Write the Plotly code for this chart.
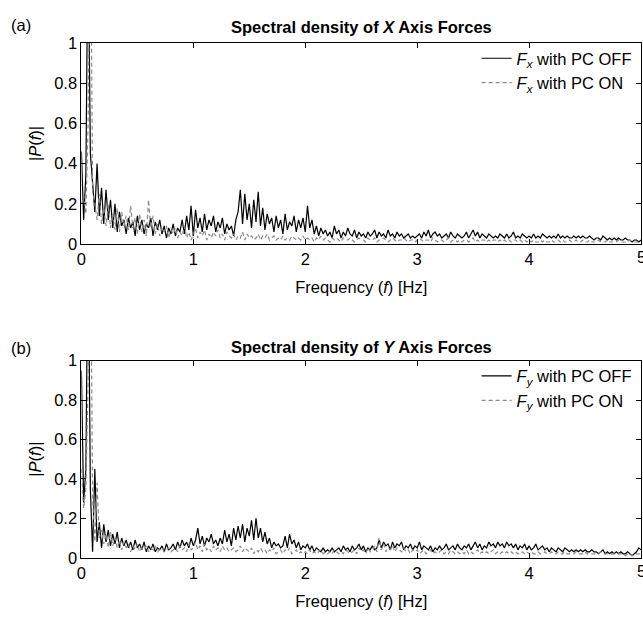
import numpy as np
import plotly.graph_objects as go

# frequency axis (Hz), 0.02 Hz step
freq = [round(i * 0.02, 2) for i in range(251)]

# X-axis forces, PC OFF (black solid)
px_off = [
    0.46, 0.12, 0.35, 1.60, 0.45, 0.30, 0.16, 0.40, 0.14, 0.28,
    0.10, 0.27, 0.12, 0.22, 0.08, 0.20, 0.06, 0.16, 0.09, 0.12,
    0.05, 0.13, 0.08, 0.11, 0.04, 0.14, 0.07, 0.12, 0.05, 0.10,
    0.08, 0.13, 0.04, 0.11, 0.07, 0.12, 0.05, 0.09, 0.03, 0.08,
    0.05, 0.10, 0.04, 0.08, 0.06, 0.12, 0.05, 0.14, 0.07, 0.19,
    0.04, 0.17, 0.08, 0.13, 0.06, 0.15, 0.07, 0.12, 0.09, 0.14,
    0.06, 0.11, 0.08, 0.13, 0.05, 0.10, 0.07, 0.09, 0.04, 0.12,
    0.16, 0.27, 0.10, 0.25, 0.12, 0.20, 0.08, 0.22, 0.11, 0.26,
    0.09, 0.18, 0.07, 0.15, 0.10, 0.13, 0.06, 0.14, 0.08, 0.12,
    0.05, 0.15, 0.07, 0.11, 0.09, 0.14, 0.06, 0.12, 0.08, 0.13,
    0.06, 0.19, 0.08, 0.12, 0.05, 0.09, 0.04, 0.08, 0.05, 0.07,
    0.04, 0.06, 0.03, 0.09, 0.05, 0.07, 0.03, 0.06, 0.04, 0.08,
    0.05, 0.04, 0.07, 0.03, 0.06, 0.04, 0.05, 0.03, 0.06, 0.04,
    0.05, 0.07, 0.03, 0.06, 0.04, 0.05, 0.03, 0.07, 0.04, 0.05,
    0.03, 0.06, 0.04, 0.05, 0.03, 0.04, 0.05, 0.03, 0.04, 0.03,
    0.04, 0.05, 0.03, 0.06, 0.04, 0.07, 0.03, 0.05, 0.06, 0.04,
    0.05, 0.03, 0.04, 0.05, 0.03, 0.06, 0.04, 0.03, 0.05, 0.04,
    0.03, 0.04, 0.06, 0.03, 0.05, 0.07, 0.04, 0.06, 0.03, 0.05,
    0.04, 0.03, 0.05, 0.04, 0.03, 0.04, 0.03, 0.05, 0.04, 0.03,
    0.05, 0.03, 0.04, 0.06, 0.03, 0.04, 0.03, 0.05, 0.04, 0.03,
    0.04, 0.03, 0.05, 0.03, 0.04, 0.03, 0.05, 0.04, 0.03, 0.04,
    0.03, 0.04, 0.03, 0.05, 0.03, 0.04, 0.03, 0.04, 0.03, 0.03,
    0.04, 0.03, 0.04, 0.03, 0.04, 0.03, 0.03, 0.04, 0.03, 0.02,
    0.03, 0.03, 0.02, 0.04, 0.03, 0.02, 0.03, 0.02, 0.03, 0.02,
    0.03, 0.02, 0.02, 0.03, 0.02, 0.02, 0.01, 0.02, 0.02, 0.01,
    0.02,
]

# X-axis forces, PC ON (grey dashed)
px_on = [
    0.20, 0.24, 0.15, 0.60, 1.80, 0.26, 0.20, 0.12, 0.25, 0.10,
    0.18, 0.09, 0.20, 0.08, 0.15, 0.07, 0.18, 0.06, 0.16, 0.09,
    0.14, 0.07, 0.19, 0.08, 0.13, 0.05, 0.15, 0.06, 0.12, 0.04,
    0.22, 0.08, 0.14, 0.05, 0.10, 0.04, 0.08, 0.06, 0.09, 0.03,
    0.07, 0.05, 0.08, 0.03, 0.06, 0.04, 0.09, 0.03, 0.06, 0.02,
    0.05, 0.08, 0.03, 0.06, 0.04, 0.07, 0.02, 0.05, 0.03, 0.06,
    0.04, 0.07, 0.03, 0.05, 0.02, 0.06, 0.04, 0.03, 0.05, 0.02,
    0.04, 0.03, 0.06, 0.02, 0.05, 0.03, 0.04, 0.02, 0.03, 0.05,
    0.02, 0.04, 0.03, 0.05, 0.02, 0.03, 0.04, 0.02, 0.03, 0.02,
    0.04, 0.02, 0.03, 0.02, 0.04, 0.03, 0.02, 0.03, 0.02, 0.04,
    0.02, 0.03, 0.02, 0.03, 0.01, 0.03, 0.02, 0.04, 0.02, 0.03,
    0.02, 0.01, 0.03, 0.02, 0.03, 0.02, 0.01, 0.03, 0.02, 0.02,
    0.03, 0.02, 0.01, 0.02, 0.03, 0.02, 0.02, 0.01, 0.03, 0.02,
    0.02, 0.03, 0.01, 0.02, 0.02, 0.03, 0.02, 0.01, 0.02, 0.03,
    0.02, 0.01, 0.02, 0.02, 0.03, 0.02, 0.01, 0.02, 0.02, 0.01,
    0.02, 0.03, 0.02, 0.01, 0.02, 0.02, 0.01, 0.03, 0.02, 0.01,
    0.02, 0.02, 0.01, 0.02, 0.03, 0.01, 0.02, 0.02, 0.01, 0.02,
    0.01, 0.02, 0.02, 0.01, 0.02, 0.03, 0.01, 0.02, 0.01, 0.02,
    0.02, 0.01, 0.02, 0.01, 0.02, 0.02, 0.01, 0.02, 0.01, 0.02,
    0.01, 0.02, 0.01, 0.02, 0.02, 0.01, 0.02, 0.01, 0.02, 0.01,
    0.02, 0.01, 0.02, 0.01, 0.01, 0.02, 0.01, 0.02, 0.01, 0.01,
    0.02, 0.01, 0.01, 0.02, 0.01, 0.02, 0.01, 0.01, 0.02, 0.01,
    0.01, 0.02, 0.01, 0.01, 0.02, 0.01, 0.01, 0.02, 0.01, 0.01,
    0.01, 0.02, 0.01, 0.01, 0.01, 0.02, 0.01, 0.01, 0.01, 0.01,
    0.02, 0.01, 0.01, 0.01, 0.01, 0.02, 0.01, 0.01, 0.01, 0.01,
    0.01,
]

# Y-axis forces, PC OFF (black solid)
py_off = [
    0.95, 0.28, 0.45, 1.70, 0.35, 0.03, 0.45, 0.08, 0.18, 0.05,
    0.17, 0.08, 0.14, 0.06, 0.12, 0.07, 0.13, 0.05, 0.10, 0.06,
    0.09, 0.05, 0.08, 0.04, 0.09, 0.05, 0.07, 0.04, 0.08, 0.03,
    0.06, 0.04, 0.07, 0.03, 0.05, 0.04, 0.06, 0.03, 0.07, 0.04,
    0.05, 0.07, 0.04, 0.08, 0.05, 0.09, 0.06, 0.08, 0.05, 0.10,
    0.06, 0.09, 0.15, 0.07, 0.11, 0.06, 0.10, 0.08, 0.12, 0.07,
    0.09, 0.06, 0.10, 0.07, 0.14, 0.08, 0.12, 0.06, 0.15, 0.09,
    0.16, 0.10, 0.17, 0.08, 0.15, 0.11, 0.19, 0.09, 0.20, 0.10,
    0.15, 0.08, 0.13, 0.07, 0.10, 0.05, 0.08, 0.06, 0.07, 0.05,
    0.06, 0.11, 0.05, 0.12, 0.07, 0.09, 0.05, 0.08, 0.04, 0.06,
    0.05, 0.07, 0.04, 0.06, 0.03, 0.05, 0.04, 0.03, 0.05, 0.03,
    0.04, 0.03, 0.05, 0.03, 0.04, 0.05, 0.03, 0.06, 0.04, 0.05,
    0.03, 0.06, 0.04, 0.05, 0.07, 0.04, 0.06, 0.03, 0.05, 0.04,
    0.06, 0.04, 0.05, 0.09, 0.05, 0.08, 0.06, 0.07, 0.04, 0.08,
    0.05, 0.07, 0.06, 0.08, 0.04, 0.06, 0.05, 0.07, 0.04, 0.06,
    0.05, 0.08, 0.04, 0.06, 0.05, 0.04, 0.06, 0.03, 0.05, 0.04,
    0.06, 0.04, 0.05, 0.07, 0.04, 0.05, 0.06, 0.04, 0.07, 0.05,
    0.04, 0.06, 0.05, 0.07, 0.04, 0.06, 0.08, 0.05, 0.07, 0.04,
    0.06, 0.05, 0.08, 0.06, 0.07, 0.05, 0.08, 0.06, 0.07, 0.05,
    0.08, 0.06, 0.07, 0.05, 0.07, 0.04, 0.06, 0.05, 0.07, 0.04,
    0.06, 0.04, 0.05, 0.07, 0.04, 0.05, 0.06, 0.04, 0.05, 0.03,
    0.05, 0.04, 0.03, 0.05, 0.04, 0.03, 0.05, 0.04, 0.03, 0.04,
    0.03, 0.04, 0.03, 0.04, 0.03, 0.04, 0.03, 0.03, 0.04, 0.03,
    0.03, 0.02, 0.03, 0.04, 0.02, 0.03, 0.02, 0.03, 0.02, 0.03,
    0.02, 0.03, 0.02, 0.02, 0.03, 0.02, 0.01, 0.02, 0.03, 0.05,
    0.04,
]

# Y-axis forces, PC ON (grey dashed)
py_on = [
    0.45, 0.25, 0.35, 0.90, 1.80, 0.30, 0.08, 0.38, 0.10, 0.14,
    0.07, 0.12, 0.05, 0.13, 0.06, 0.10, 0.05, 0.09, 0.04, 0.08,
    0.05, 0.07, 0.03, 0.06, 0.04, 0.07, 0.03, 0.05, 0.04, 0.06,
    0.03, 0.05, 0.04, 0.06, 0.03, 0.04, 0.05, 0.03, 0.04, 0.05,
    0.03, 0.04, 0.05, 0.03, 0.06, 0.04, 0.05, 0.03, 0.07, 0.04,
    0.05, 0.08, 0.04, 0.06, 0.03, 0.07, 0.04, 0.05, 0.03, 0.06,
    0.04, 0.05, 0.03, 0.06, 0.04, 0.05, 0.03, 0.04, 0.05, 0.03,
    0.04, 0.06, 0.03, 0.05, 0.04, 0.03, 0.05, 0.02, 0.04, 0.03,
    0.05, 0.03, 0.04, 0.02, 0.04, 0.03, 0.05, 0.02, 0.03, 0.04,
    0.02, 0.04, 0.03, 0.05, 0.02, 0.03, 0.04, 0.02, 0.03, 0.02,
    0.03, 0.02, 0.04, 0.02, 0.03, 0.02, 0.03, 0.04, 0.02, 0.03,
    0.02, 0.03, 0.02, 0.04, 0.03, 0.02, 0.03, 0.02, 0.04, 0.03,
    0.02, 0.03, 0.04, 0.02, 0.05, 0.03, 0.04, 0.02, 0.05, 0.03,
    0.04, 0.06, 0.03, 0.10, 0.04, 0.07, 0.03, 0.05, 0.04, 0.06,
    0.03, 0.05, 0.04, 0.03, 0.05, 0.03, 0.04, 0.02, 0.04, 0.03,
    0.04, 0.02, 0.03, 0.04, 0.02, 0.03, 0.04, 0.02, 0.03, 0.02,
    0.03, 0.04, 0.02, 0.03, 0.02, 0.04, 0.03, 0.02, 0.03, 0.02,
    0.03, 0.02, 0.04, 0.02, 0.03, 0.02, 0.03, 0.04, 0.02, 0.03,
    0.02, 0.03, 0.02, 0.03, 0.04, 0.02, 0.03, 0.02, 0.03, 0.02,
    0.03, 0.02, 0.03, 0.02, 0.03, 0.02, 0.02, 0.03, 0.02, 0.03,
    0.02, 0.03, 0.02, 0.02, 0.03, 0.02, 0.02, 0.03, 0.02, 0.02,
    0.03, 0.02, 0.02, 0.03, 0.02, 0.02, 0.03, 0.02, 0.02, 0.02,
    0.02, 0.03, 0.02, 0.02, 0.02, 0.03, 0.02, 0.02, 0.02, 0.02,
    0.02, 0.02, 0.03, 0.02, 0.02, 0.02, 0.02, 0.02, 0.02, 0.02,
    0.02, 0.02, 0.02, 0.01, 0.02, 0.02, 0.01, 0.02, 0.02, 0.02,
    0.02,
]

x_ticks = [0, 1, 2, 3, 4, 5]
x_ticklabels = ["0", "1", "2", "3", "4", "5"]
y_ticks = [0, 0.2, 0.4, 0.6, 0.8, 1]
y_ticklabels = ["0", "0.2", "0.4", "0.6", "0.8", "1"]

FONT = "Liberation Sans, Arial, sans-serif"
GREY = "#8a8a8a"
FS = 16.5

W, H = 643, 625
L_PX, R_PX = 77, 641
TOP1, BOT1 = 35, 242
TOP2, BOT2 = 362, 565


def fy(px):
    return 1 - px / H


fig = go.Figure()

fig.add_trace(go.Scatter(x=freq, y=px_off, mode="lines", xaxis="x", yaxis="y",
                         line=dict(color="black", width=1.2),
                         name="<i>F</i><sub><i>x</i></sub> with PC OFF", legend="legend"))
fig.add_trace(go.Scatter(x=freq, y=px_on, mode="lines", xaxis="x", yaxis="y",
                         line=dict(color=GREY, width=1.2, dash="4px,3px"),
                         name="<i>F</i><sub><i>x</i></sub> with PC ON", legend="legend"))
fig.add_trace(go.Scatter(x=freq, y=py_off, mode="lines", xaxis="x2", yaxis="y2",
                         line=dict(color="black", width=1.2),
                         name="<i>F</i><sub><i>y</i></sub> with PC OFF", legend="legend2"))
fig.add_trace(go.Scatter(x=freq, y=py_on, mode="lines", xaxis="x2", yaxis="y2",
                         line=dict(color=GREY, width=1.2, dash="4px,3px"),
                         name="<i>F</i><sub><i>y</i></sub> with PC ON", legend="legend2"))

xdom = [L_PX / W, R_PX / W]
axis_common = dict(showline=True, linecolor="black", linewidth=1, mirror="ticks",
                   ticks="inside", ticklen=5, tickcolor="black", showgrid=False,
                   zeroline=False, tickfont=dict(family=FONT, size=FS, color="black"))

xtitle = dict(text="Frequency (<i>f</i>) [Hz]", font=dict(family=FONT, size=FS, color="black"), standoff=14)
ytitle = dict(text="|<i>P</i>(<i>f</i>)|", font=dict(family=FONT, size=FS, color="black"), standoff=8)

fig.update_layout(
    width=W, height=H, margin=dict(l=0, r=0, t=0, b=0),
    plot_bgcolor="white", paper_bgcolor="white",
    xaxis=dict(domain=xdom, anchor="y", range=[0, 5], tickvals=x_ticks[:-1], ticktext=x_ticklabels[:-1],
               title=xtitle, **axis_common),
    yaxis=dict(domain=[fy(BOT1), fy(TOP1)], anchor="x", range=[0, 1], tickvals=y_ticks,
               ticktext=y_ticklabels, title=ytitle, **axis_common),
    xaxis2=dict(domain=xdom, anchor="y2", range=[0, 5], tickvals=x_ticks[:-1], ticktext=x_ticklabels[:-1],
                title=xtitle, **axis_common),
    yaxis2=dict(domain=[fy(BOT2), fy(TOP2)], anchor="x2", range=[0, 1], tickvals=y_ticks,
                ticktext=y_ticklabels, title=ytitle, **axis_common),
    legend=dict(x=0.99, y=fy(TOP1 - 2), xref="paper", yref="paper", xanchor="right", yanchor="top",
                bgcolor="rgba(0,0,0,0)", font=dict(family=FONT, size=FS, color="black"),
                tracegroupgap=0, itemwidth=30),
    legend2=dict(x=0.99, y=fy(TOP2 - 2), xref="paper", yref="paper", xanchor="right", yanchor="top",
                 bgcolor="rgba(0,0,0,0)", font=dict(family=FONT, size=FS, color="black"),
                 tracegroupgap=0, itemwidth=30),
    showlegend=True,
)

annots = [
    dict(text="<b>Spectral density of <i>X</i> Axis Forces</b>", x=(L_PX + R_PX) / 2 / W, y=fy(TOP1 - 5)),
    dict(text="<b>Spectral density of <i>Y</i> Axis Forces</b>", x=(L_PX + R_PX) / 2 / W, y=fy(TOP2 - 3)),
]
for a in annots:
    fig.add_annotation(xref="paper", yref="paper", showarrow=False, xanchor="center", yanchor="bottom",
                       font=dict(family=FONT, size=FS, color="black"), **a)

# last x tick label "5" sits on the right border and is cut by the page edge
for xa, bot in [("x", BOT1), ("x2", BOT2)]:
    fig.add_annotation(text=x_ticklabels[-1], xref=xa, yref="paper", x=x_ticks[-1], y=fy(bot + 2),
                       xanchor="center", yanchor="top", showarrow=False,
                       font=dict(family=FONT, size=FS, color="black"))

for lab, ypx in [("(a)", 16), ("(b)", 349)]:
    fig.add_annotation(text=lab, xref="paper", yref="paper", x=4 / W, y=fy(ypx), xanchor="left",
                       yanchor="middle", showarrow=False, font=dict(family=FONT, size=FS, color="black"))

fig.write_html("out.html")
